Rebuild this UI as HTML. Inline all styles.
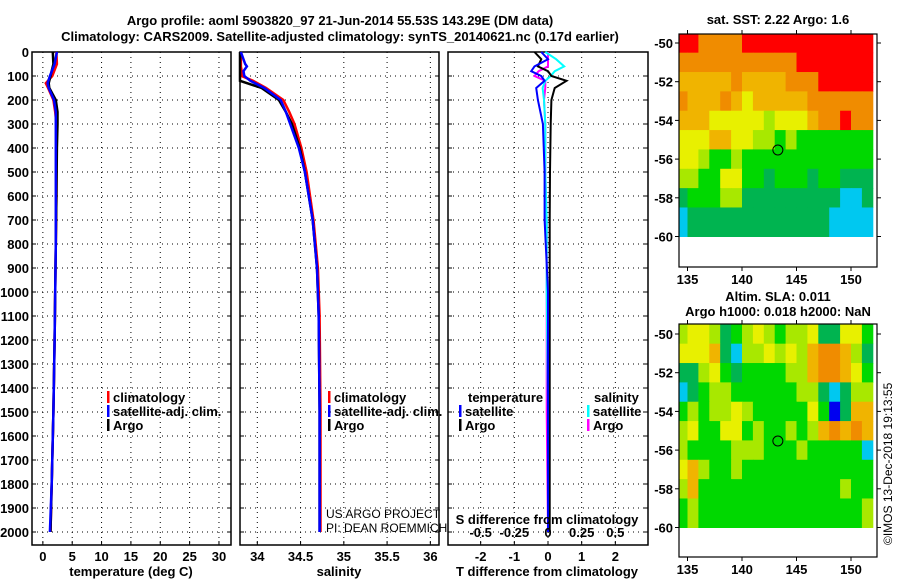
<!DOCTYPE html>
<html><head><meta charset="utf-8"><style>
body{margin:0;background:#fff;width:900px;height:580px;overflow:hidden}
svg text{font-family:"Liberation Sans",sans-serif;font-weight:bold;font-size:13px;fill:#000}
</style></head><body>
<svg id="c" width="900" height="580" xmlns="http://www.w3.org/2000/svg">
<text x="340" y="25" text-anchor="middle">Argo profile: aoml 5903820_97 21-Jun-2014 55.53S 143.29E (DM data)</text>
<text x="340" y="41" text-anchor="middle">Climatology: CARS2009. Satellite-adjusted climatology: synTS_20140621.nc (0.17d earlier)</text>
<text x="778" y="24" text-anchor="middle">sat. SST: 2.22 Argo: 1.6</text>
<text x="778" y="301" text-anchor="middle">Altim. SLA: 0.011</text>
<text x="778" y="316" text-anchor="middle">Argo h1000: 0.018 h2000: NaN</text>
<text transform="translate(892,545) rotate(-90)" style="font-weight:normal;font-size:12px">©IMOS 13-Dec-2018 19:13:55</text>
<g id="g"></g>
</svg>
<script>
// ---- profile data ----
const depthT=[0,50,100,130,150,200,250,300,400,600,800,1000,1200,1500,1800,2000];
const argoT=[1.7,1.8,1.3,1.0,1.1,2.2,2.5,2.5,2.4,2.3,2.2,2.1,2.0,1.8,1.5,1.3];
const climT=[2.3,2.4,1.6,0.5,0.9,1.8,2.1,2.3,2.3,2.3,2.2,2.1,2.0,1.8,1.5,1.3];
const satT=[2.4,2.0,1.2,0.8,1.0,1.9,2.2,2.2,2.2,2.2,2.2,2.1,2.0,1.8,1.5,1.2];
const depthS=[0,50,60,80,100,120,150,200,250,300,400,500,700,900,1100,1500,2000];
const argoS=[33.8,33.8,33.8,33.8,33.8,33.8,34.05,34.25,34.33,34.4,34.49,34.55,34.64,34.69,34.71,34.72,34.72];
const climS=[33.81,33.81,33.81,33.82,33.82,33.95,34.1,34.3,34.37,34.43,34.51,34.57,34.65,34.7,34.72,34.73,34.73];
const satS=[33.81,33.86,33.88,33.84,33.85,33.92,34.08,34.27,34.33,34.38,34.48,34.55,34.64,34.69,34.71,34.72,34.72];
const depthD=[0,30,60,80,100,120,150,200,300,500,700,1000,1500,2000];
const tdSat=[-0.2,0,-0.4,-0.5,-0.2,-0.1,-0.35,-0.3,-0.15,-0.1,-0.1,0,0,0];
const tdArgo=[-0.4,-0.2,-0.3,0,0.1,0.55,0.2,0.1,0.08,0.06,0.05,0.05,0.05,0.05];
const sdSat=[-0.02,0.06,0.12,0.05,0.02,-0.02,-0.04,-0.03,-0.02,-0.02,-0.01,-0.01,0,0];
const sdArgo=[0,0,0,-0.07,-0.1,-0.02,-0.02,-0.03,-0.02,-0.02,-0.01,-0.01,-0.01,0];
const depthTicks=[0,100,200,300,400,500,600,700,800,900,1000,1100,1200,1300,1400,1500,1600,1700,1800,1900,2000];
const tTicks=[0,5,10,15,20,25,30];
const sTicks=[34,34.5,35,35.5,36];
const dTicks=[-2,-1,0,1,2];
const dTickLabels=['-2','-1','0','1','2'];
const sdTickLabels=['-0.5','-0.25','0','0.25','0.5'];
// ---- map data (colour index per 1deg cell, lon 134..152, lat -50..-60) ----
const sstGrid=[
[8,8,7,7,7,7,8,8,8,8,8,8,8,8,8,8,8,8],
[7,7,7,7,7,7,7,7,7,7,7,8,8,8,8,8,8,8],
[6,6,6,6,6,7,6,6,6,6,7,7,7,8,8,8,8,8],
[7,6,6,6,7,6,5,6,6,6,6,6,7,7,7,7,7,7],
[6,6,6,5,5,5,5,5,4,5,5,5,6,7,7,8,7,7],
[5,5,5,6,6,5,5,4,4,3,4,3,3,3,3,3,3,3],
[5,5,4,3,3,4,3,3,3,3,3,3,3,3,3,3,3,3],
[4,4,3,3,5,5,3,3,2,3,3,3,2,3,3,2,2,2],
[2,3,3,3,4,4,2,2,2,2,2,2,2,2,2,1,1,2],
[1,2,2,2,2,2,2,2,2,2,2,2,2,2,1,1,1,1]];
const slaGrid=[
[4,5,5,4,2,3,4,5,4,3,4,4,5,2,2,5,5,3],
[5,5,5,6,2,1,4,4,5,4,5,4,6,7,7,6,4,2],
[2,2,4,5,3,2,3,3,3,3,4,4,6,7,7,6,5,3],
[1,2,3,4,4,3,3,3,3,3,3,4,4,2,1,2,4,4],
[3,4,3,4,4,5,4,3,3,3,3,3,5,3,0,2,6,6],
[4,5,3,3,5,5,3,4,3,3,4,3,4,6,7,6,7,6],
[4,3,3,3,3,4,4,4,3,3,3,4,3,3,3,3,3,1],
[5,6,4,3,3,4,3,3,3,3,3,3,3,3,3,3,3,3],
[4,6,3,3,3,3,3,3,3,3,3,3,3,3,3,4,3,3],
[3,4,3,3,3,3,3,3,3,3,3,3,3,3,3,3,3,4]];
const latTicks=[-50,-52,-54,-56,-58,-60];
const lonTicks=[135,140,145,150];
const argoPos=[143.29,-55.53];

const NS='http://www.w3.org/2000/svg';
const G=document.getElementById('g');
function el(t,a,p){const e=document.createElementNS(NS,t);for(const k in a)e.setAttribute(k,a[k]);(p||G).appendChild(e);return e;}
const yD=d=>52+d*0.24;
function panel(name,x0,x1,xmin,xmax,ticks,labels,showY){
  const sx=v=>x0+(v-xmin)/(xmax-xmin)*(x1-x0);
  const g=el('g',{});
  
  
  depthTicks.forEach(d=>{const y=yD(d);
    el('line',{x1:x0,x2:x1,y1:y,y2:y,stroke:'#000','stroke-dasharray':'1,4','stroke-width':1},g);
    el('line',{x1:x0,x2:x0+4,y1:y,y2:y,stroke:'#000'},g);el('line',{x1:x1-4,x2:x1,y1:y,y2:y,stroke:'#000'},g);
    if(showY){const t=el('text',{x:x0-3,y:y+5,'text-anchor':'end'},g);t.textContent=d;}
  });
  ticks.forEach((v,i)=>{const x=sx(v);
    el('line',{x1:x,x2:x,y1:52,y2:545,stroke:'#000','stroke-dasharray':'1,4'},g);
    el('line',{x1:x,x2:x,y1:541,y2:545,stroke:'#000'},g);
    const t=el('text',{x:x,y:561,'text-anchor':'middle'},g);t.textContent=labels?labels[i]:v;
    
    
  });
  el('rect',{x:x0,y:52,width:x1-x0,height:493,fill:'none',stroke:'#000','stroke-width':1.5},g);
  return {sx,g};
}
function line(p,ds,vs,col,name,w){
  const pts=ds.map((d,i)=>p.sx(vs[i]).toFixed(1)+','+yD(d).toFixed(1)).join(' ');
  const l=el('polyline',{points:pts,fill:'none',stroke:col,'stroke-width':w||2.5},p.g);
  
  
}
function txt(x,y,s,name,extra){const t=el('text',Object.assign({x:x,y:y},extra||{}));t.textContent=s;
  
  return t;}
function leg(x,y,col,s,name){el('rect',{x:x,y:y-11,width:2.5,height:12,fill:col});txt(x+6,y,s,name);}

const p1=panel('temperature-panel',32,231,-1.85,32.05,tTicks,null,true);
line(p1,depthT,climT,'#f00','temp-climatology-line');
line(p1,depthT,argoT,'#000','temp-argo-line');
line(p1,depthT,satT,'#00f','temp-satellite-line');
txt(131,576,'temperature (deg C)','temperature-axis-title',{'text-anchor':'middle'});
leg(107,402,'#f00','climatology','legend-climatology');
leg(107,416,'#00f','satellite-adj. clim.','legend-satellite');
leg(107,430,'#000','Argo','legend-argo');

const p2=panel('salinity-panel',240,439,33.8,36.1,sTicks,null,false);
line(p2,depthS,climS,'#f00','sal-climatology-line');
line(p2,depthS,argoS,'#000','sal-argo-line');
line(p2,depthS,satS,'#00f','sal-satellite-line');
txt(339,576,'salinity','salinity-axis-title',{'text-anchor':'middle'});
leg(328,402,'#f00','climatology','legend-sal-climatology');
leg(328,416,'#00f','satellite-adj. clim.','legend-sal-satellite');
leg(328,430,'#000','Argo','legend-sal-argo');
txt(326,518,'US ARGO PROJECT','project-credit',{style:'font-weight:normal;font-size:12px'});
txt(326,532,'PI: DEAN ROEMMICH','pi-credit',{style:'font-weight:normal;font-size:12px'});

const p3=panel('difference-panel',448,648,-2.97,2.97,dTicks,dTickLabels,false);
const sdScale=v=>v*4; // 0.25 S maps to 1 T unit
line(p3,depthD,sdArgo.map(sdScale),'#f0f','sdiff-argo-line',2);
line(p3,depthD,sdSat.map(sdScale),'#0ff','sdiff-satellite-line',2);
line(p3,depthD,tdArgo,'#000','tdiff-argo-line',2);
line(p3,depthD,tdSat,'#00f','tdiff-satellite-line',2);
dTicks.forEach((v,i)=>{txt(p3.sx(v),537,sdTickLabels[i],'s-diff-tick-label',{'text-anchor':'middle'});});
txt(547,524,'S difference from climatology','s-diff-axis-title',{'text-anchor':'middle'});
txt(547,576,'T difference from climatology','t-diff-axis-title',{'text-anchor':'middle'});
txt(468,402,'temperature','legend-temperature-head');
leg(459,416,'#00f','satellite','legend-tdiff-satellite');
leg(459,430,'#000','Argo','legend-tdiff-argo');
txt(594,402,'salinity','legend-salinity-head');
leg(587,416,'#0ff','satellite','legend-sdiff-satellite');
leg(587,430,'#f0f','Argo','legend-sdiff-argo');

// ---- maps ----
const cmap=['#0000f0','#00c8f0','#00b450','#00d800','#a8e800','#e8f000','#f0b400','#f08c00','#ff0000'];
function map(name,grid,top,lat50y){
  const x0=679,x1=877,bot=top+(557-324);
  const sx=l=>742+(l-140)*10.9, sy=la=>lat50y+(-50-la)*19.35;
  const g=el('g',{});
  
  
  grid.forEach((row,r)=>row.forEach((v,c)=>{
    const xa=Math.max(x0,sx(134+c)),xb=Math.min(x1,sx(135+c));
    const ya=r==0?top:sy(-49.5-r);
    const yb=r==9?sy(-60):sy(-50.5-r);
    el('rect',{x:xa,y:ya,width:xb-xa+0.5,height:yb-ya+0.5,fill:cmap[v]},g);
  }));
  el('rect',{x:x0,y:top,width:x1-x0,height:bot-top,fill:'none',stroke:'#000','stroke-width':1.2},g);
  latTicks.forEach(la=>{const y=sy(la);el('line',{x1:x0-4,x2:x0,y1:y,y2:y,stroke:'#000'},g);el('line',{x1:x1,x2:x1+4,y1:y,y2:y,stroke:'#000'},g);
    const t=el('text',{x:x0-6,y:y+5,'text-anchor':'end'},g);t.textContent=la;});
  lonTicks.forEach(lo=>{const x=sx(lo);el('line',{x1:x,x2:x,y1:bot,y2:bot+4,stroke:'#000'},g);el('line',{x1:x,x2:x,y1:top-4,y2:top,stroke:'#000'},g);
    const t=el('text',{x:x,y:bot+17,'text-anchor':'middle'},g);t.textContent=lo;});
  const m=el('circle',{cx:sx(argoPos[0]),cy:sy(argoPos[1]),r:5,fill:'none',stroke:'#000','stroke-width':1},g);
  
  
}
map('sst-map',sstGrid,34,43);
map('sla-map',slaGrid,324,334);
</script>
</body></html>
